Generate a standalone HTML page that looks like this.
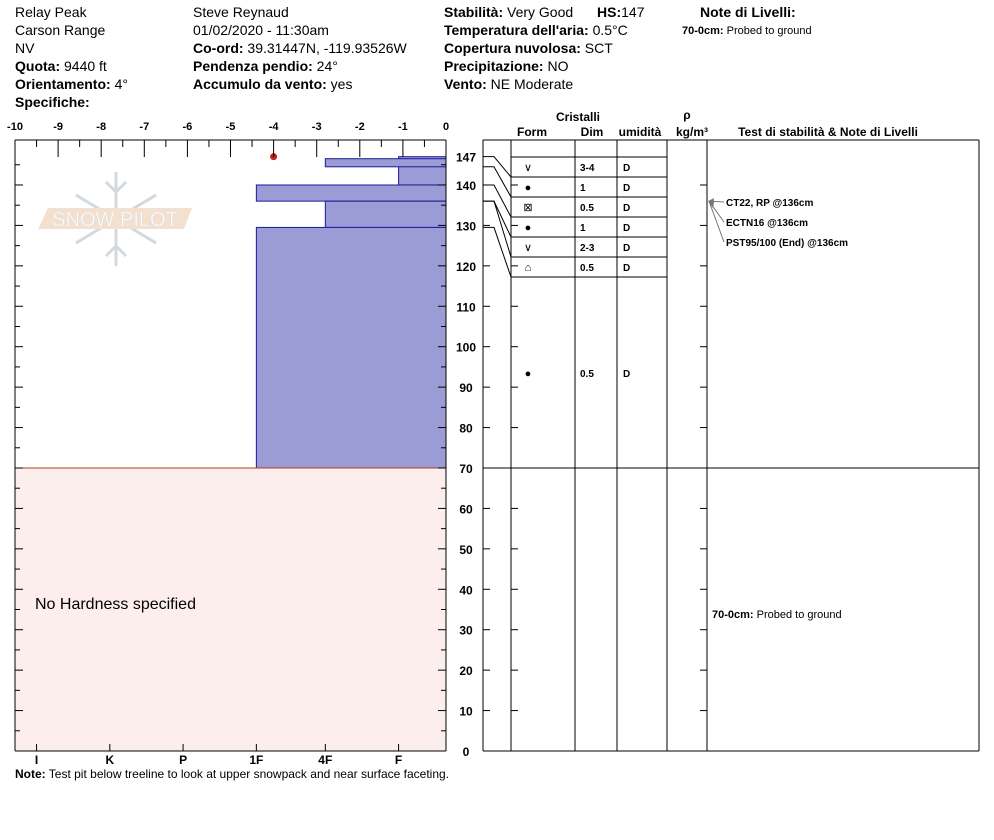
<!DOCTYPE html>
<html><head><meta charset="utf-8"><style>
body{margin:0;background:#fff;}
svg{display:block;font-family:"Liberation Sans",sans-serif;}
.h{font-size:14px;fill:#000}
.b{font-weight:bold}
</style></head><body>
<svg id="c" width="994" height="840" viewBox="0 0 994 840" xmlns="http://www.w3.org/2000/svg">
<g class="h">
<text x="15" y="17">Relay Peak</text>
<text x="15" y="35">Carson Range</text>
<text x="15" y="53">NV</text>
<text x="15" y="71"><tspan class="b">Quota:</tspan> 9440 ft</text>
<text x="15" y="89"><tspan class="b">Orientamento:</tspan> 4°</text>
<text x="15" y="107" class="b">Specifiche:</text>
<text x="193" y="17">Steve Reynaud</text>
<text x="193" y="35">01/02/2020 - 11:30am</text>
<text x="193" y="53"><tspan class="b">Co-ord:</tspan> 39.31447N, -119.93526W</text>
<text x="193" y="71"><tspan class="b">Pendenza pendio:</tspan> 24°</text>
<text x="193" y="89"><tspan class="b">Accumulo da vento:</tspan> yes</text>
<text x="444" y="17"><tspan class="b">Stabilità:</tspan> Very Good</text>
<text x="597" y="17"><tspan class="b">HS:</tspan>147</text>
<text x="444" y="35"><tspan class="b">Temperatura dell'aria:</tspan> 0.5°C</text>
<text x="444" y="53"><tspan class="b">Copertura nuvolosa:</tspan> SCT</text>
<text x="444" y="71"><tspan class="b">Precipitazione:</tspan> NO</text>
<text x="444" y="89"><tspan class="b">Vento:</tspan>  NE Moderate</text>
<text x="700" y="17" class="b">Note di Livelli:</text>
<text x="682" y="34" style="font-size:11px"><tspan font-weight="bold">70-0cm:</tspan>  Probed to ground</text>
</g>
<g opacity="0.8">
<g stroke="#c8d0d8" stroke-width="3" fill="none">
<line x1="116" y1="172" x2="116" y2="266"/>
<line x1="76" y1="195" x2="156" y2="243"/>
<line x1="76" y1="243" x2="156" y2="195"/>
<polyline points="106,182 116,192 126,182"/>
<polyline points="106,256 116,246 126,256"/>
</g>
<polygon points="48,208 192,208 184,229 38,229" fill="#f2d9c4"/>
<text x="115" y="226" text-anchor="middle" font-size="20" fill="#ffffff" stroke="#d8d8d8" stroke-width="0.6">SNOW PILOT</text>
</g>
<g id="plot"></g>
<text x="15" y="778" class="h" style="font-size:12px"><tspan class="b">Note:</tspan>  Test pit below treeline to look at upper snowpack and near surface faceting.</text>
</svg>
<script>
const layerTop=[147,140,146.5,140,136,129.5];
const layerBot=[140,136,144.5,136,129.5,70];
const layerHard=[-1.1,-1.1,-2.8,-4.4,-2.8,-4.4];
const hardTicks=[-10,-9,-8,-7,-6,-5,-4,-3,-2,-1,0];
const hardLabels=["I","K","P","1F","4F","F"];
const hardLabelVals=[-9.5,-7.8,-6.1,-4.4,-2.8,-1.1];
const heightTicks=[0,10,20,30,40,50,60,70,80,90,100,110,120,130,140];
const grainForm=["∨","●","⊠","●","∨","⌂"];
const grainSize=["3-4","1","0.5","1","2-3","0.5"];
const grainWet=["D","D","D","D","D","D"];
const boundaryH=[147,144.5,140,136,136,129.5];
const tempH=[147], tempV=[-4];
const NS="http://www.w3.org/2000/svg";
const g=document.getElementById('plot');
const X=h=>446+h*43.1, Y=c=>751-c*4.043;
function el(t,a,txt){const e=document.createElementNS(NS,t);for(const k in a)e.setAttribute(k,a[k]);if(txt!==undefined)e.textContent=txt;g.appendChild(e);return e;}
let e=el('rect',{x:15,y:Y(70),width:431,height:751-Y(70),fill:'#fdeeee'});


e=el('text',{x:35,y:609,'font-size':16},'No Hardness specified');


for(let i=0;i<layerTop.length;i++){
 const x=X(layerHard[i]);
 e=el('rect',{x:x,y:Y(layerTop[i]),width:446-x,height:Y(layerBot[i])-Y(layerTop[i]),fill:'#9b9bd5',stroke:'#1a1aa0','stroke-width':1});
 
 
}
el('line',{x1:15,y1:Y(70),x2:446,y2:Y(70),stroke:'#b04020'});
for(let i=0;i<tempH.length;i++){e=el('circle',{cx:X(tempV[i]),cy:Y(tempH[i]),r:3.5,fill:'#c02020'});

}
el('line',{x1:15,y1:140,x2:446,y2:140,stroke:'#000'});
el('line',{x1:15,y1:140,x2:15,y2:751,stroke:'#000'});
el('line',{x1:446,y1:140,x2:446,y2:751,stroke:'#000'});
el('line',{x1:15,y1:751,x2:446,y2:751,stroke:'#000'});
hardTicks.forEach(v=>{
 el('line',{x1:X(v),y1:140,x2:X(v),y2:157,stroke:'#000'});
 if(v>-10)el('line',{x1:X(v-0.5),y1:140,x2:X(v-0.5),y2:147,stroke:'#000'});
 e=el('text',{x:X(v),y:130,'font-size':11,'font-weight':'bold','text-anchor':'middle'},String(v));
 
 
});
hardLabelVals.forEach((v,i)=>{
 el('line',{x1:X(v),y1:744,x2:X(v),y2:751,stroke:'#000'});
 e=el('text',{x:X(v),y:764,'font-size':12,'font-weight':'bold','text-anchor':'middle'},hardLabels[i]);
 
 
});
for(let c=0;c<=145;c+=5){
 const L=c%10===0?8:5;
 el('line',{x1:15,y1:Y(c),x2:15+L,y2:Y(c),stroke:'#000'});
 el('line',{x1:446-L,y1:Y(c),x2:446,y2:Y(c),stroke:'#000'});
}
heightTicks.concat([147]).forEach(c=>{
 e=el('text',{x:466,y:Y(c)+5,'font-size':12,'font-weight':'bold','text-anchor':'middle'},String(c));
 
 
});
const cols=[483,511,575,617,667,707,979];
cols.forEach(x=>el('line',{x1:x,y1:140,x2:x,y2:751,stroke:'#000'}));
el('line',{x1:483,y1:140,x2:979,y2:140,stroke:'#000'});
el('line',{x1:483,y1:751,x2:979,y2:751,stroke:'#000'});
el('line',{x1:483,y1:Y(70),x2:979,y2:Y(70),stroke:'#000'});
[['Cristalli',578,121],['Form',532,136],['Dim',592,136],['umidità',640,136],['ρ',687,119],['kg/m³',692,136],['Test di stabilità & Note di Livelli',828,136]].forEach(t=>{
 e=el('text',{x:t[1],y:t[2],'font-size':12,'font-weight':'bold','text-anchor':'middle'},t[0]);
 
 
});
for(let c=0;c<=140;c+=10){
 el('line',{x1:483,y1:Y(c),x2:490,y2:Y(c),stroke:'#000'});
 el('line',{x1:511,y1:Y(c),x2:518,y2:Y(c),stroke:'#000'});
 el('line',{x1:700,y1:Y(c),x2:707,y2:Y(c),stroke:'#000'});
}
for(let i=0;i<=grainForm.length;i++)el('line',{x1:511,y1:157+20*i,x2:667,y2:157+20*i,stroke:'#000'});
grainForm.forEach((f,i)=>{
 const y=171+20*i;
 e=el('text',{x:528,y:y,'font-size':11,'text-anchor':'middle'},f);
 
 
 el('text',{x:580,y:y,'font-size':10,'font-weight':'bold'},grainSize[i]);
 el('text',{x:623,y:y,'font-size':10,'font-weight':'bold'},grainWet[i]);
});
el('text',{x:528,y:377,'font-size':11,'text-anchor':'middle'},'●');
el('text',{x:580,y:377,'font-size':10,'font-weight':'bold'},'0.5');
el('text',{x:623,y:377,'font-size':10,'font-weight':'bold'},'D');
boundaryH.forEach((h,i)=>{
 e=el('polyline',{points:`483,${Y(h)} 494,${Y(h)} 511,${177+20*i}`,fill:'none',stroke:'#000','stroke-width':1});
 
 
});
[['CT22, RP @136cm',206,726],['ECTN16 @136cm',226,726],['PST95/100 (End) @136cm',246,726]].forEach((t,i)=>{
 el('polyline',{points:`709,${Y(136)} ${t[2]-2},${t[1]-4}`,fill:'none',stroke:'#777'});
 el('polygon',{points:`708,${Y(136)} 714,${Y(136)-3+i*2} 713,${Y(136)+3+i*2}`,fill:'#777'});
 e=el('text',{x:t[2],y:t[1],'font-size':10,'font-weight':'bold'},t[0]);
 
 
});
e=el('text',{x:712,y:618,'font-size':11},'');
e.innerHTML='<tspan font-weight="bold">70-0cm:</tspan>  Probed to ground';


</script>
</body></html>
